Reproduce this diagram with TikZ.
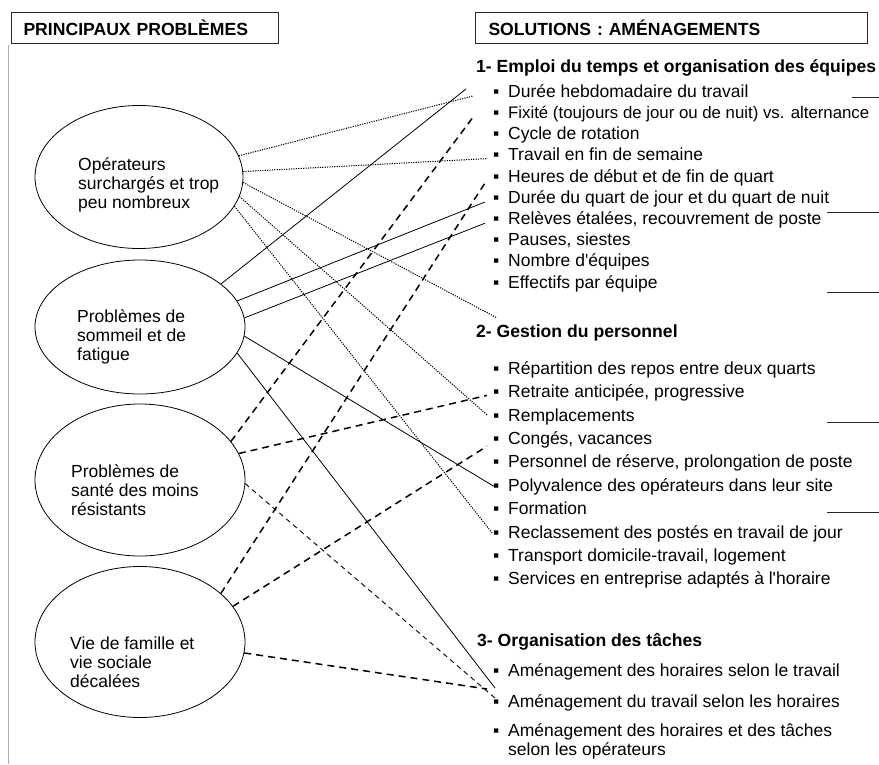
\documentclass[tikz,border=0pt]{standalone}
\usepackage{fontspec}
\setmainfont{Liberation Sans}
\usepackage{tikz}
\usetikzlibrary{shapes.geometric}
\definecolor{cadregris}{RGB}{40,40,40}
\definecolor{bordgris}{RGB}{175,175,175}
\newcommand{\puce}{\makebox[15pt][l]{▪}}

\tikzset{
  probleme/.style={ellipse, draw, line width=0.8pt, inner sep=0pt},
  probtxt/.style={anchor=west, align=left, inner sep=0pt, font=\fontsize{17.5}{19}\selectfont},
  titre/.style={draw=cadregris, line width=1pt, anchor=north west, align=left, minimum height=31pt, font=\bfseries\fontsize{17.6}{20}\selectfont},
  rubrique/.style={anchor=west, inner sep=0pt, font=\bfseries\fontsize{17.6}{20}\selectfont},
  solution/.style={anchor=west, inner sep=0pt, font=\fontsize{17.5}{19}\selectfont},
  ligne/.style={solution, text height=12pt, text depth=3.5pt},
  pointille/.style={dash pattern=on 1.2pt off 1.2pt, line width=1pt},
  trait/.style={line width=0.8pt},
  tirets/.style={dash pattern=on 7pt off 5pt, line width=1.5pt},
  tiretsfin/.style={dash pattern=on 5pt off 4pt, line width=0.9pt},
  repere/.style={line width=1pt, cadregris}
}

\begin{document}
\begin{tikzpicture}[x=1pt, y=-1pt]
\fill[white] (0,0) rectangle (879,764);
\useasboundingbox (0,0) rectangle (879,764);
\clip (0,0) rectangle (879,764);

% Bords de la page scannee
\draw[bordgris, line width=1pt] (8,45) -- (8,764);
\foreach \yy/\xa in {97/852, 212/827, 292/827, 422/827, 512/827} {
    \draw[repere] (\xa,\yy) -- (879,\yy);
}

% Titres encadres
\node[titre, text width=243pt, inner xsep=12pt] (probtitre) at (11,12) {PRINCIPAUX PROBLÈMES};
\node[titre, text width=366pt, inner xsep=13pt] (soltitre) at (475,12) {SOLUTIONS : AMÉNAGEMENTS};

% Problemes (ellipses)
\node[probleme, minimum width=208pt, minimum height=143pt] (surcharge) at (139,177) {};
\node[probleme, minimum width=210pt, minimum height=134pt] (sommeil) at (140,327) {};
\node[probleme, minimum width=210pt, minimum height=152pt] (sante) at (140,480) {};
\node[probleme, minimum width=210pt, minimum height=151pt] (viefam) at (140,642) {};
\node[probtxt] (surcharge-txt) at (78,185) {Opérateurs\\surchargés et trop\\peu nombreux};
\node[probtxt] (sommeil-txt) at (77,337) {Problèmes de\\sommeil et de\\fatigue};
\node[probtxt] (sante-txt) at (71,490) {Problèmes de\\santé des moins\\résistants};
\node[probtxt] (viefam-txt) at (70,662) {Vie de famille et\\vie sociale\\décalées};

% 1- Emploi du temps
\node[rubrique] (sec1) at (476,68) {1- Emploi du temps et organisation des équipes};
\foreach \nm/\txt [count=\i] in {dhebdo/Durée hebdomadaire du travail,
    fixite/{\fontsize{16.8}{19}\selectfont Fixité (toujours de jour ou de nuit) vs. alternance},
    cycle/Cycle de rotation, finsem/Travail en fin de semaine,
    heures/Heures de début et de fin de quart,
    dquart/Durée du quart de jour et du quart de nuit,
    releves/{Relèves étalées, recouvrement de poste},
    pauses/{Pauses, siestes}, nbequip/Nombre d\textquotesingle équipes,
    effectifs/Effectifs par équipe} {
    \node[ligne] (\nm) at (493,{93+21.2*(\i-1)}) {\puce\txt};
}

% 2- Gestion du personnel
\node[rubrique] (sec2) at (476,333) {2- Gestion du personnel};
\foreach \nm/\txt [count=\i] in {repart/Répartition des repos entre deux quarts,
    retraite/{Retraite anticipée, progressive}, rempl/Remplacements,
    conges/{Congés, vacances},
    reserve/{Personnel de réserve, prolongation de poste},
    polyv/Polyvalence des opérateurs dans leur site, formation/Formation,
    reclass/Reclassement des postés en travail de jour,
    transport/{Transport domicile-travail, logement},
    services/Services en entreprise adaptés à l\textquotesingle horaire} {
    \node[ligne] (\nm) at (493,{370+23.4*(\i-1)}) {\puce\txt};
}

% 3- Organisation des taches
\node[rubrique] (sec3) at (477,642) {3- Organisation des tâches};
\node[ligne] (amenA) at (493,672) {\puce Aménagement des horaires selon le travail};
\node[ligne] (amenB) at (493,703) {\puce Aménagement du travail selon les horaires};
\node[solution, align=left] (amenC) at (493,741.5) {\puce Aménagement des horaires et des tâches\\\hspace*{15pt}selon les opérateurs};

% Liens : operateurs surcharges
\draw[pointille] (surcharge.12) -- ([xshift=-20pt,yshift=-3pt]dhebdo.west);
\draw[pointille] (surcharge.3) -- ([xshift=-6pt,yshift=-2pt]finsem.west);
\draw[pointille] (surcharge.-3) -- ([xshift=21pt,yshift=15pt]sec2.west);
\draw[pointille] (surcharge.-11) -- ([xshift=-6pt,yshift=2pt]rempl.west);
\draw[pointille] (surcharge.-17) -- ([xshift=-1pt,yshift=1pt]reclass.west);

% Liens : sommeil et fatigue
\draw[trait] (sommeil.28) -- ([xshift=-27pt,yshift=4pt]dhebdo.west);
\draw[trait] (sommeil.15) -- ([xshift=-8pt,yshift=-3pt]dquart.west);
\draw[trait] (sommeil.5) -- ([xshift=-8pt,yshift=-3pt]releves.west);
\draw[trait] (sommeil.-5) -- ([xshift=2pt]polyv.west);
\draw[trait] (sommeil.-15) -- ([xshift=2pt,yshift=15pt]amenB.west);

% Liens : sante
\draw[tirets] (sante.23) -- ([xshift=-20pt,yshift=-3pt]fixite.west);
\draw[tirets] (sante.15) -- ([xshift=-6pt,yshift=-2pt]retraite.west);
\draw[tiretsfin] (sante.-2) -- ([xshift=2pt,yshift=5pt]amenB.west);

% Liens : vie de famille
\draw[tirets] (viefam.31) -- ([xshift=-6pt,yshift=-2pt]heures.west);
\draw[tirets] (viefam.21) -- ([xshift=-6pt,yshift=-6pt]conges.west);
\draw[tirets] (viefam.-6) -- ([xshift=-6pt,yshift=14pt]amenB.west);
\end{tikzpicture}
\end{document}
